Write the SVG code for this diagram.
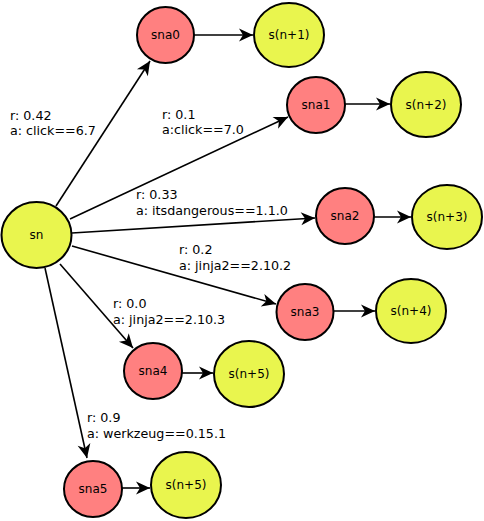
<svg xmlns="http://www.w3.org/2000/svg" width="484" height="521" viewBox="0 0 484 521">
<style>
.y{fill:#e9f54e;stroke:#000;stroke-width:2}
.r{fill:#ff8080;stroke:#000;stroke-width:2}
.e{stroke:#000;stroke-width:1.6;fill:none;marker-end:url(#ah)}
.t{font-family:"DejaVu Sans",sans-serif;font-size:12px;fill:#000;text-anchor:middle}
.l{font-family:"DejaVu Sans",sans-serif;font-size:12.7px;fill:#000}
</style>
<defs>
<marker id="ah" markerUnits="userSpaceOnUse" markerWidth="16" markerHeight="14" refX="14" refY="7" orient="auto" overflow="visible">
<path d="M0,0.5 L14,7 L0,13.5 L4,7 Z" fill="#000"/>
</marker>
</defs>
<rect width="484" height="521" fill="#fff"/>
<g id="edges">
<line class="e" x1="56" y1="206" x2="150" y2="61"/>
<line class="e" x1="70" y1="219" x2="288" y2="117"/>
<line class="e" x1="72" y1="233" x2="315" y2="218"/>
<line class="e" x1="72" y1="246" x2="276" y2="304"/>
<line class="e" x1="60" y1="264" x2="133" y2="348"/>
<line class="e" x1="45" y1="268" x2="87" y2="458"/>
<line class="e" x1="194" y1="35" x2="253" y2="35"/>
<line class="e" x1="345" y1="104" x2="390" y2="104"/>
<line class="e" x1="374" y1="217" x2="411" y2="217"/>
<line class="e" x1="333" y1="311" x2="375" y2="311"/>
<line class="e" x1="182" y1="373" x2="213" y2="373"/>
<line class="e" x1="122" y1="488" x2="150" y2="488"/>
</g>
<g id="edge-labels">
<text class="l" x="10" y="120">r: 0.42</text>
<text class="l" x="10" y="135">a: click==6.7</text>
<text class="l" x="162" y="119">r: 0.1</text>
<text class="l" x="162" y="134">a:click==7.0</text>
<text class="l" x="136" y="199">r: 0.33</text>
<text class="l" x="136" y="215">a: itsdangerous==1.1.0</text>
<text class="l" x="179" y="254">r: 0.2</text>
<text class="l" x="179" y="270">a: jinja2==2.10.2</text>
<text class="l" x="113" y="308">r: 0.0</text>
<text class="l" x="113" y="324">a: jinja2==2.10.3</text>
<text class="l" x="87" y="422">r: 0.9</text>
<text class="l" x="87" y="438">a: werkzeug==0.15.1</text>
</g>
<g id="sn"><ellipse class="y" cx="36.5" cy="235" rx="35" ry="33"/><text class="t" x="36.5" y="239">sn</text></g>
<g id="sna0"><ellipse class="r" cx="165.5" cy="35" rx="28.5" ry="28"/><text class="t" x="165.5" y="39">sna0</text></g>
<g id="s1"><ellipse class="y" cx="289" cy="35" rx="35" ry="32"/><text class="t" x="289" y="39">s(n+1)</text></g>
<g id="sna1"><ellipse class="r" cx="316" cy="105" rx="29" ry="28"/><text class="t" x="316" y="109">sna1</text></g>
<g id="s2"><ellipse class="y" cx="426" cy="104.5" rx="35" ry="32.5"/><text class="t" x="426" y="108.5">s(n+2)</text></g>
<g id="sna2"><ellipse class="r" cx="345" cy="216" rx="29" ry="28"/><text class="t" x="345" y="220">sna2</text></g>
<g id="s3"><ellipse class="y" cx="447" cy="217" rx="35" ry="32"/><text class="t" x="447" y="221">s(n+3)</text></g>
<g id="sna3"><ellipse class="r" cx="305" cy="312" rx="28.5" ry="28"/><text class="t" x="305" y="316">sna3</text></g>
<g id="s4"><ellipse class="y" cx="411" cy="311" rx="35" ry="32"/><text class="t" x="411" y="315">s(n+4)</text></g>
<g id="sna4"><ellipse class="r" cx="153" cy="371" rx="29" ry="28"/><text class="t" x="153" y="375">sna4</text></g>
<g id="s5a"><ellipse class="y" cx="249" cy="374" rx="35" ry="33"/><text class="t" x="249" y="378">s(n+5)</text></g>
<g id="sna5"><ellipse class="r" cx="93" cy="489" rx="29" ry="28"/><text class="t" x="93" y="493">sna5</text></g>
<g id="s5b"><ellipse class="y" cx="186" cy="485" rx="35" ry="33"/><text class="t" x="186" y="489">s(n+5)</text></g>
</svg>
